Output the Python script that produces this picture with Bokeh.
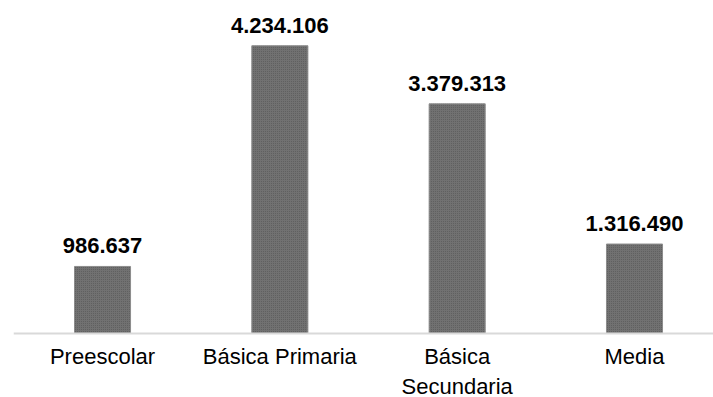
from bokeh.plotting import figure
from bokeh.models import ColumnDataSource, Range1d, FixedTicker, LabelSet
from bokeh.core.properties import value
from bokeh.embed import file_html
from bokeh.resources import INLINE

# Matrícula por nivel educativo
niveles = ["Preescolar", "Básica Primaria", "Básica\nSecundaria", "Media"]
matricula = [986637, 4234106, 3379313, 1316490]
etiquetas = ["986.637", "4.234.106", "3.379.313", "1.316.490"]

pos = list(range(len(niveles)))
src = ColumnDataSource(dict(x=pos, y=matricula, label=etiquetas))

# el marco ocupa toda la altura; el eje se fija en y=0 y deja espacio debajo
p = figure(width=713, height=397, output_backend="svg", toolbar_location=None,
           x_range=Range1d(-0.502, 3.4455), y_range=Range1d(-941742, 4.9e6),
           min_border_left=13, min_border_right=0, min_border_top=0,
           min_border_bottom=0)

p.vbar(x="x", top="y", width=0.316, source=src,
       fill_color="#717171", line_color="#8c8c8c", line_width=1,
       hatch_pattern="dot", hatch_color="#5a5a5a", hatch_scale=2, hatch_weight=1)

labels = LabelSet(x="x", y="y", text="label", source=src,
                  text_align="center", text_baseline="alphabetic", y_offset=13,
                  text_font=value("Liberation Sans"), text_font_size=value("22px"),
                  text_font_style=value("bold"), text_color=value("#000000"))
p.add_layout(labels)

# eje inferior con los niveles como etiquetas
xa = p.xaxis[0]
xa.fixed_location = 0
xa.ticker = FixedTicker(ticks=pos)
xa.major_label_overrides = {i: n for i, n in zip(pos, niveles)}
xa.major_label_text_font = "Liberation Sans"
xa.major_label_text_font_size = "22px"
xa.major_label_text_color = "#000000"
xa.major_label_standoff = 10
xa.major_tick_in = 0
xa.major_tick_out = 0
xa.minor_tick_in = 0
xa.minor_tick_out = 0
xa.major_tick_line_color = None
xa.minor_tick_line_color = None
xa.axis_line_color = "#d9d9d9"
xa.axis_line_width = 2

p.yaxis.visible = False
p.xgrid.visible = False
p.ygrid.visible = False
p.outline_line_color = None
p.background_fill_color = "white"
p.border_fill_color = "white"

open("out.html", "w").write(file_html(p, INLINE))
